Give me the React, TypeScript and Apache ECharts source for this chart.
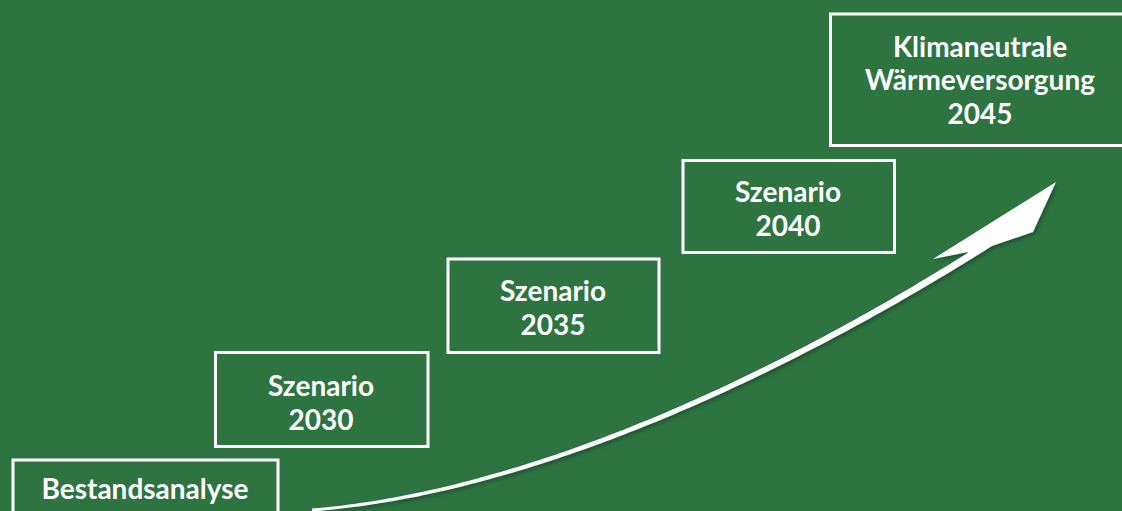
import React, { useEffect, useRef } from "react";
import * as echarts from "echarts";

// Content of the roadmap stages
const stageTitles = ["Bestandsanalyse", "Szenario", "Szenario", "Szenario", "Klimaneutrale\nWärmeversorgung"];
const stageYears = ["", "2030", "2035", "2040", "2045"];

// Layout (pixel boxes: left, top, right, bottom)
const boxLayout = [
  [13, 460, 278, 530],
  [215.5, 352.5, 428, 446.5],
  [448, 259, 659, 352.5],
  [683, 160.5, 894.5, 252.5],
  [830.5, 14, 1132, 145.5],
];
const textCenters = [
  [145, 488],
  [321, 402],
  [553, 307],
  [788, 208],
  [980, 79],
];

// Arrow centre line as a cubic Bézier (layout)
const arrowCtrl = [[312, 510], [560, 490], [830, 345], [990, 243]];
const arrowHead = { notch: [968, 252], barb: [933, 259], tip: [1056, 182], corner: [1033, 232] };

const BG = "#2D7441";

function bez(t: number) {
  const [p0, p1, p2, p3] = arrowCtrl;
  const u = 1 - t;
  const a = u * u * u, b = 3 * u * u * t, c = 3 * u * t * t, d = t * t * t;
  return [a * p0[0] + b * p1[0] + c * p2[0] + d * p3[0], a * p0[1] + b * p1[1] + c * p2[1] + d * p3[1]];
}

function arrowPolygon() {
  const steps = 120;
  const upper: number[][] = [];
  const lower: number[][] = [];
  for (let i = 0; i <= steps; i++) {
    const t = i / steps;
    const p = bez(t);
    const a = bez(Math.max(0, t - 0.005));
    const b = bez(Math.min(1, t + 0.005));
    let dx = b[0] - a[0], dy = b[1] - a[1];
    const len = Math.hypot(dx, dy) || 1;
    dx /= len; dy /= len;
    const hw = 1.4 + 2.2 * t;
    const nx = dy, ny = -dx;
    upper.push([p[0] + nx * hw, p[1] + ny * hw]);
    lower.push([p[0] - nx * hw, p[1] - ny * hw]);
  }
  const up = upper.filter((p) => p[0] <= arrowHead.notch[0]);
  return [
    ...up,
    arrowHead.notch,
    arrowHead.barb,
    arrowHead.tip,
    arrowHead.corner,
    ...lower.reverse(),
  ];
}

export default function App() {
  const ref = useRef<HTMLDivElement>(null);
  useEffect(() => {
    document.body.style.margin = "0";
    const chart = echarts.init(ref.current!, null, { renderer: "svg" });
    const elements: any[] = [];
    boxLayout.forEach((b) => {
      elements.push({
        type: "rect",
        shape: { x: b[0], y: b[1], width: b[2] - b[0], height: b[3] - b[1] },
        style: { fill: "transparent", stroke: "#ffffff", lineWidth: 3 },
      });
    });
    stageTitles.forEach((title, i) => {
      const txt = stageYears[i] ? title + "\n" + stageYears[i] : title;
      elements.push({
        type: "text",
        x: textCenters[i][0],
        y: textCenters[i][1],
        style: {
          text: txt,
          fill: "#ffffff",
          font: "bold 28px Lato, 'Open Sans', sans-serif",
          lineHeight: 33.5,
          align: "center",
          verticalAlign: "middle",
        },
      });
    });
    elements.push({
      type: "polygon",
      shape: { points: arrowPolygon() },
      style: {
        fill: "#ffffff",
        shadowBlur: 4,
        shadowOffsetX: 1.5,
        shadowOffsetY: 2,
        shadowColor: "rgba(0,0,0,0.35)",
      },
    });
    chart.setOption({
      animation: false,
      backgroundColor: BG,
      graphic: { elements },
    });
    return () => chart.dispose();
  }, []);
  return <div ref={ref} style={{ width: 1122, height: 511 }} />;
}
